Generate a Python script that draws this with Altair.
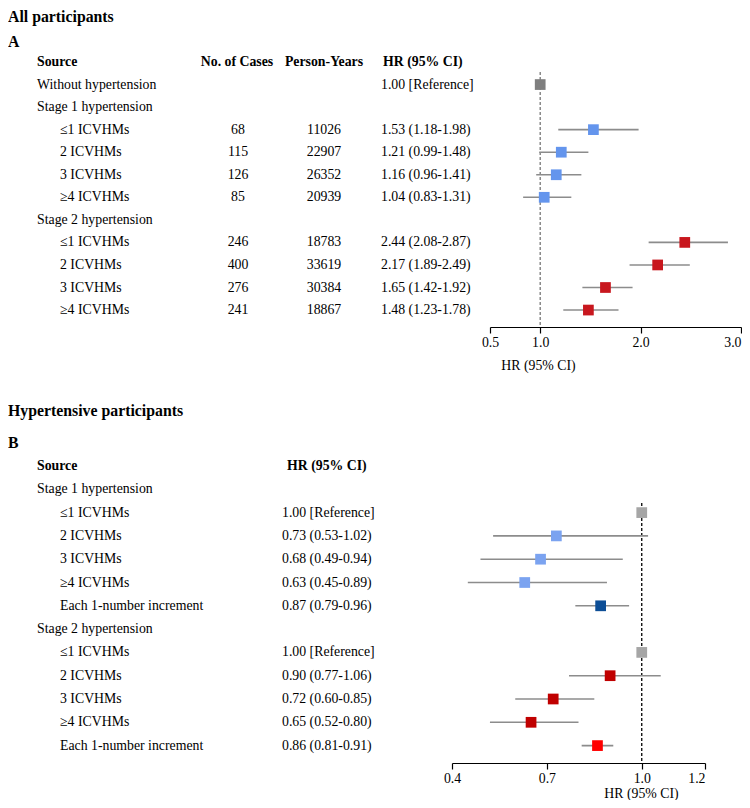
import altair as alt
import pandas as pd

FONT = "Liberation Serif"
FS = 13.8

# ---------------- Panel A data ----------------
a_labels = ["Without hypertension", "Stage 1 hypertension", "≤1 ICVHMs", "2 ICVHMs", "3 ICVHMs", "≥4 ICVHMs",
            "Stage 2 hypertension", "≤1 ICVHMs", "2 ICVHMs", "3 ICVHMs", "≥4 ICVHMs"]
a_level = [0, 0, 1, 1, 1, 1, 0, 1, 1, 1, 1]
a_cases = ["", "", "68", "115", "126", "85", "", "246", "400", "276", "241"]
a_py = ["", "", "11026", "22907", "26352", "20939", "", "18783", "33619", "30384", "18867"]
a_hr_text = ["1.00 [Reference]", "", "1.53 (1.18-1.98)", "1.21 (0.99-1.48)", "1.16 (0.96-1.41)", "1.04 (0.83-1.31)",
             "", "2.44 (2.08-2.87)", "2.17 (1.89-2.49)", "1.65 (1.42-1.92)", "1.48 (1.23-1.78)"]
a_hr = [1.00, None, 1.53, 1.21, 1.16, 1.04, None, 2.44, 2.17, 1.65, 1.48]
a_lo = [None, None, 1.18, 0.99, 0.96, 0.83, None, 2.08, 1.89, 1.42, 1.23]
a_hi = [None, None, 1.98, 1.48, 1.41, 1.31, None, 2.87, 2.49, 1.92, 1.78]
a_group = ["refA", "", "s1A", "s1A", "s1A", "s1A", "", "s2A", "s2A", "s2A", "s2A"]
a_ticks = [0.5, 1.0, 2.0, 3.0]

# ---------------- Panel B data ----------------
b_labels = ["Stage 1 hypertension", "≤1 ICVHMs", "2 ICVHMs", "3 ICVHMs", "≥4 ICVHMs", "Each 1-number increment",
            "Stage 2 hypertension", "≤1 ICVHMs", "2 ICVHMs", "3 ICVHMs", "≥4 ICVHMs", "Each 1-number increment"]
b_level = [0, 1, 1, 1, 1, 1, 0, 1, 1, 1, 1, 1]
b_hr_text = ["", "1.00 [Reference]", "0.73 (0.53-1.02)", "0.68 (0.49-0.94)", "0.63 (0.45-0.89)", "0.87 (0.79-0.96)",
             "", "1.00 [Reference]", "0.90 (0.77-1.06)", "0.72 (0.60-0.85)", "0.65 (0.52-0.80)", "0.86 (0.81-0.91)"]
b_hr = [None, 1.00, 0.73, 0.68, 0.63, 0.87, None, 1.00, 0.90, 0.72, 0.65, 0.86]
b_lo = [None, None, 0.53, 0.49, 0.45, 0.79, None, None, 0.77, 0.60, 0.52, 0.81]
b_hi = [None, None, 1.02, 0.94, 0.89, 0.96, None, None, 1.06, 0.85, 0.80, 0.91]
b_group = ["", "refB", "s1B", "s1B", "s1B", "inc1", "", "refB", "s2B", "s2B", "s2B", "inc2"]
b_ticks = [0.4, 0.7, 1.0, 1.2]

group_domain = ["refA", "s1A", "s2A", "refB", "s1B", "inc1", "s2B", "inc2"]
group_colors = ["#7f7f7f", "#6495ed", "#c8171e", "#a6a6a6", "#7ba3f0", "#0d4e96", "#c00000", "#ff0000"]


def frame(labels, level, hr_text, hr, lo, hi, group, cases=None, py=None):
    d = pd.DataFrame({
        "row": list(range(1, len(labels) + 1)),
        "label": labels, "level": level, "hr_text": hr_text,
        "hr": hr, "lo": lo, "hi": hi, "group": group,
    })
    if cases is not None:
        d["cases"] = cases
        d["py"] = py
    return d


def txt(**kw):
    base = dict(font=FONT, fontSize=FS, color="black", baseline="middle")
    base.update(kw)
    return base


def make_panel(df, headers, cols, x_domain, x_range, ticks, y_domain, height, title, letter, letter_y,
               ref_top, ref_color, axis_title_x, axis_title_y, label_x_main, label_x_sub):
    yscale = alt.Scale(domain=y_domain, reverse=True, nice=False, zero=False)
    y = alt.Y("row:Q", scale=yscale, axis=None)
    base = alt.Chart(df)
    layers = []
    # titles
    layers.append(alt.Chart(pd.DataFrame({"t": [title]})).mark_text(
        **txt(fontSize=15.8, fontWeight="bold", align="left")).encode(
        x=alt.value(0), y=alt.value(9), text="t:N"))
    layers.append(alt.Chart(pd.DataFrame({"t": [letter]})).mark_text(
        **txt(fontSize=15.8, fontWeight="bold", align="left")).encode(
        x=alt.value(0), y=alt.value(letter_y), text="t:N"))
    # headers
    for text, hx, align in headers:
        layers.append(alt.Chart(pd.DataFrame({"t": [text], "row": [0]})).mark_text(
            **txt(fontWeight="bold", align=align)).encode(x=alt.value(hx), y=y, text="t:N"))
    # row labels
    layers.append(base.transform_filter("datum.level == 0").mark_text(**txt(align="left")).encode(
        x=alt.value(label_x_main), y=y, text="label:N"))
    layers.append(base.transform_filter("datum.level == 1").mark_text(**txt(align="left")).encode(
        x=alt.value(label_x_sub), y=y, text="label:N"))
    for field, cx, align in cols:
        layers.append(base.mark_text(**txt(align=align)).encode(x=alt.value(cx), y=y, text=f"{field}:N"))
    # forest
    xscale = alt.Scale(domain=x_domain, range=x_range, nice=False, zero=False)
    label_align = {"condition": {"test": f"datum.value >= {x_domain[1]}", "value": "right"}, "value": "center"}
    xaxis = alt.Axis(values=ticks, format=".1f", grid=False, title="HR (95% CI)",
                     titleX=axis_title_x, titleY=axis_title_y, titleAlign="center",
                     titleBaseline="middle", titleFont=FONT, titleFontSize=FS, titleFontWeight="normal",
                     titleColor="black", labelFont=FONT, labelFontSize=FS, labelColor="black",
                     labelPadding=2, tickSize=6, tickColor="black", domainColor="black",
                     domainWidth=1.2, tickWidth=1.2, labelAlign=label_align)
    refdf = pd.DataFrame({"v": [1.0], "y1": [ref_top], "y2": [y_domain[1]]})
    ref = alt.Chart(refdf).mark_rule(
        color=ref_color, strokeDash=[3, 2], strokeWidth=1.3).encode(
        x=alt.X("v:Q", scale=xscale, axis=xaxis),
        y=alt.Y("y1:Q", scale=yscale, axis=None), y2="y2:Q")
    layers.append(ref)
    ci = base.mark_rule(color="#8c8c8c", strokeWidth=1.6).encode(
        x=alt.X("lo:Q", scale=xscale, axis=xaxis), x2="hi:Q", y=y)
    layers.append(ci)
    pts = base.mark_point(shape="square", filled=True, size=115, opacity=1).encode(
        x=alt.X("hr:Q", scale=xscale, axis=xaxis), y=y,
        color=alt.Color("group:N", scale=alt.Scale(domain=group_domain, range=group_colors), legend=None))
    layers.append(pts)
    return alt.layer(*layers).properties(width=734, height=height)


dfA = frame(a_labels, a_level, a_hr_text, a_hr, a_lo, a_hi, a_group, a_cases, a_py)
dfB = frame(b_labels, b_level, b_hr_text, b_hr, b_lo, b_hi, b_group)

kA = 22.55
panelA = make_panel(
    dfA,
    headers=[("Source", 29, "left"), ("No. of Cases", 229, "center"), ("Person-Years", 316, "center"),
             ("HR (95% CI)", 375, "left")],
    cols=[("cases", 230, "center"), ("py", 316, "center"), ("hr_text", 373, "left")],
    x_domain=[0.5, 3.0], x_range=[482, 733], ticks=a_ticks,
    y_domain=[-54 / kA, 265 / kA], height=319,
    title="All participants", letter="A", letter_y=34,
    ref_top=10 / kA, ref_color="#777777", axis_title_x=530, axis_title_y=38,
    label_x_main=29, label_x_sub=52)

kB = 23.3
panelB = make_panel(
    dfB,
    headers=[("Source", 29, "left"), ("HR (95% CI)", 279, "left")],
    cols=[("hr_text", 274, "left")],
    x_domain=[0.4, 1.2], x_range=[444, 697], ticks=b_ticks,
    y_domain=[-64 / kB, 297 / kB], height=361,
    title="Hypertensive participants", letter="B", letter_y=41,
    ref_top=37 / kB, ref_color="black", axis_title_x=633, axis_title_y=30,
    label_x_main=29, label_x_sub=52)

chart = alt.vconcat(panelA, panelB, spacing=30).properties(padding=0).configure_view(stroke=None)
chart.save("out.html", embed_options={"renderer": "svg", "actions": False})
